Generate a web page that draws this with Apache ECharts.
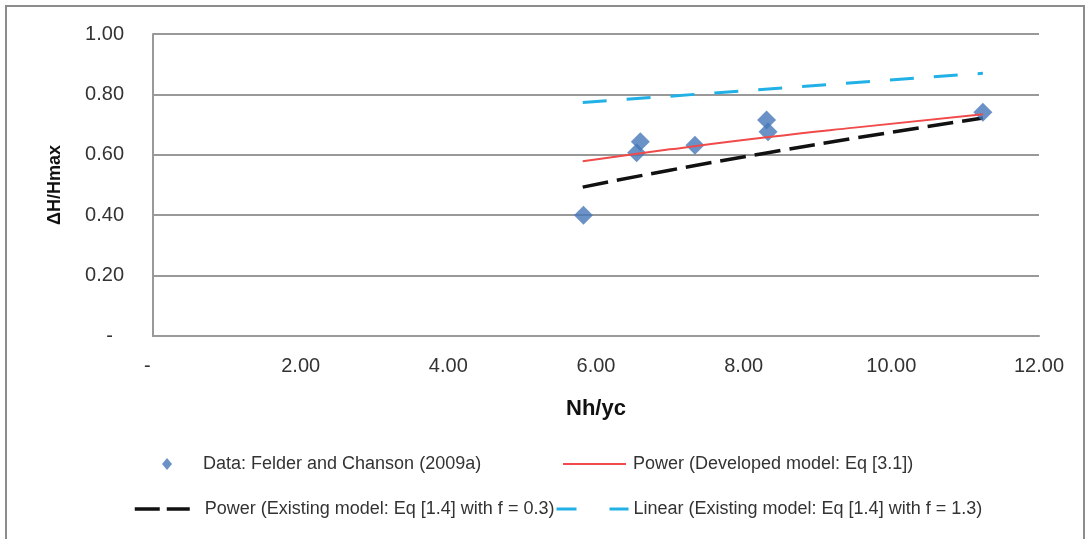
<!DOCTYPE html>
<html>
<head>
<meta charset="utf-8">
<script src="https://cdn.jsdelivr.net/npm/echarts@6/dist/echarts.min.js"></script>
<style>html,body{margin:0;padding:0;background:#fff}#c{width:1088px;height:539px}</style>
</head>
<body>
<div id="c"></div>
<script>
// Data
const dataX = [5.83, 6.55, 6.60, 7.34, 8.31, 8.33, 11.24];
const dataY = [0.40, 0.607, 0.643, 0.632, 0.715, 0.676, 0.741];
const devX = [5.82, 7.0, 8.31, 9.5, 11.24];
const devY = [0.579, 0.618, 0.658, 0.690, 0.734];
const existX = [5.82, 7.0, 8.31, 9.5, 11.24];
const existY = [0.493, 0.549, 0.606, 0.655, 0.722];
const linX = [5.82, 11.24];
const linY = [0.773, 0.870];
const xTicks = { min: 0, max: 12, interval: 2 };
const yTicks = { min: 0, max: 1, interval: 0.2 };
const names = [
  'Data: Felder and Chanson (2009a)',
  'Power (Developed model: Eq [3.1])',
  'Power (Existing model: Eq [1.4] with f = 0.3)',
  'Linear (Existing model: Eq [1.4] with f = 1.3)'
];
const zip = (a, b) => a.map((v, i) => [v, b[i]]);

const FONT = 'Liberation Sans';
const legendText = (pad) => ({ fontFamily: FONT, fontSize: 18, color: '#333', padding: [0, 0, 0, pad] });
const noSym = { opacity: 0 };

const chart = echarts.init(document.getElementById('c'), null, { renderer: 'canvas' });
chart.setOption({
  animation: false,
  backgroundColor: '#fff',
  graphic: [{
    type: 'rect', shape: { x: 6, y: 6, width: 1078, height: 545 },
    style: { fill: 'none', stroke: '#8c8c8c', lineWidth: 2 }, silent: true, z: -1
  }, {
    type: 'text', x: 55, y: 185, rotation: Math.PI / 2, silent: true,
    style: { text: 'ΔH/Hmax', fontFamily: FONT, fontSize: 18, fontWeight: 'bold', fill: '#111',
      align: 'center', verticalAlign: 'middle' }
  }],
  grid: { left: 153, right: 49, top: 34, bottom: 203 },
  xAxis: {
    type: 'value', min: xTicks.min, max: xTicks.max, interval: xTicks.interval,
    name: 'Nh/yc', nameLocation: 'middle', nameGap: 62,
    nameTextStyle: { fontFamily: FONT, fontSize: 22, fontWeight: 'bold', color: '#111' },
    axisLine: { show: true, lineStyle: { color: '#999', width: 2 } },
    axisTick: { show: false },
    splitLine: { show: false },
    axisLabel: {
      fontFamily: FONT, fontSize: 20, color: '#333', margin: 20,
      formatter: v => v === 0 ? '-  ' : v.toFixed(2)
    }
  },
  yAxis: {
    type: 'value', min: yTicks.min, max: yTicks.max, interval: yTicks.interval,
    axisLine: { show: true, lineStyle: { color: '#999', width: 2 } },
    axisTick: { show: false },
    splitLine: { show: true, lineStyle: { color: '#999', width: 2 } },
    axisLabel: {
      fontFamily: FONT, fontSize: 20, color: '#333', margin: 29,
      formatter: v => v === 0 ? '-  ' : v.toFixed(2)
    }
  },
  legend: [
    { data: [{ name: names[0], icon: 'diamond' }], left: 162, top: 455, padding: 0,
      itemWidth: 10, itemHeight: 12, textStyle: legendText(26), selectedMode: false },
    { data: [{ name: names[1] }], left: 562, top: 455, padding: 0, itemStyle: noSym,
      lineStyle: { width: 2 },
      itemWidth: 63, itemHeight: 14, textStyle: legendText(2), selectedMode: false },
    { data: [{ name: names[2] }], left: 133, top: 500, padding: 0, itemStyle: noSym,
      lineStyle: { type: [25, 7], width: 3.5 },
      itemWidth: 55, itemHeight: 14, textStyle: legendText(10), selectedMode: false },
    { data: [{ name: names[3] }], left: 555, top: 500, padding: 0, itemStyle: noSym,
      lineStyle: { type: [20, 33], width: 3 },
      itemWidth: 72, itemHeight: 14, textStyle: legendText(0), selectedMode: false }
  ],
  series: [
    { name: names[0], type: 'scatter', data: zip(dataX, dataY), symbol: 'diamond',
      symbolSize: 19, itemStyle: { color: '#4677b8' }, z: 3 },
    { name: names[1], type: 'line', data: zip(devX, devY), smooth: true, showSymbol: false,
      symbol: 'none', lineStyle: { color: '#f04a4a', width: 2 }, itemStyle: { color: '#f04a4a' }, z: 4 },
    { name: names[2], type: 'line', data: zip(existX, existY), smooth: true, showSymbol: false,
      symbol: 'none', lineStyle: { color: '#111', width: 3.5, type: [26, 9] }, itemStyle: { color: '#111' }, z: 2 },
    { name: names[3], type: 'line', data: zip(linX, linY), showSymbol: false,
      symbol: 'none', lineStyle: { color: '#22b1e6', width: 3, type: [24, 20] }, itemStyle: { color: '#22b1e6' }, z: 2 }
  ]
});
</script>
</body>
</html>
